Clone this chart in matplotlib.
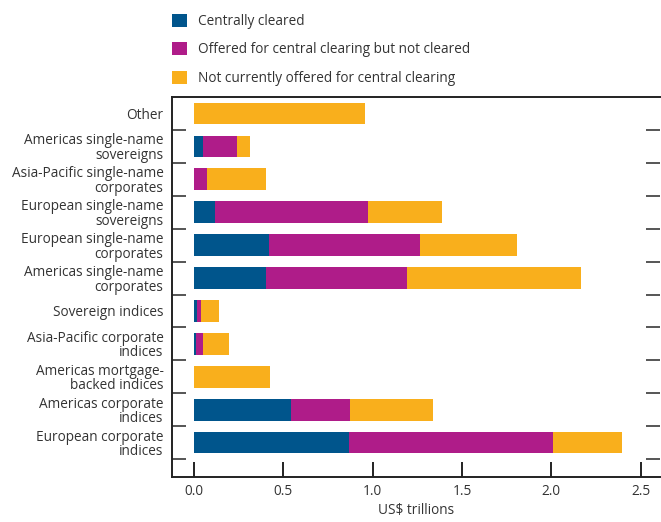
import numpy as np
import matplotlib
matplotlib.use("Agg")
import matplotlib.pyplot as plt
from matplotlib.patches import Patch

plt.rcParams['font.family'] = ['Open Sans', 'DejaVu Sans']

# Categories listed from top to bottom
categories = ["Other",
              "Americas single-name\nsovereigns",
              "Asia-Pacific single-name\ncorporates",
              "European single-name\nsovereigns",
              "European single-name\ncorporates",
              "Americas single-name\ncorporates",
              "Sovereign indices",
              "Asia-Pacific corporate\nindices",
              "Americas mortgage-\nbacked indices",
              "Americas corporate\nindices",
              "European corporate\nindices"]

# US$ trillions
cleared     = [0.0, 0.054, 0.0,   0.118, 0.42,  0.404, 0.017, 0.011, 0.0,   0.544, 0.869]
offered     = [0.0, 0.187, 0.073, 0.857, 0.847, 0.790, 0.022, 0.039, 0.0,   0.331, 1.138]
not_offered = [0.958, 0.073, 0.331, 0.415, 0.543, 0.970, 0.101, 0.146, 0.426, 0.465, 0.386]

series_names = ["Centrally cleared",
                "Offered for central clearing but not cleared",
                "Not currently offered for central clearing"]
colors = ["#00558C", "#AF1C89", "#F9AF1C"]

fig = plt.figure(figsize=(6.61, 5.22), dpi=100)
ax = fig.add_axes([0.260, 0.086, 0.739, 0.728])

n = len(categories)
y = np.arange(n)[::-1]
left = np.zeros(n)
for vals, c in zip([cleared, offered, not_offered], colors):
    ax.barh(y, vals, left=left, height=0.66, color=c, linewidth=0)
    left += np.array(vals)

ax.set_xlim(-0.123, 2.61)
ax.set_ylim(-1.05, 10.5)

txt = "#333333"
ax.set_xticks([0, 0.5, 1.0, 1.5, 2.0, 2.5])
ax.set_xticklabels(["0.0", "0.5", "1.0", "1.5", "2.0", "2.5"])
ax.tick_params(axis="x", direction="in", length=11, width=1.4, color="#222222",
               labelsize=9.8, labelcolor=txt, pad=5)

ax.set_yticks(y)
ax.set_yticklabels(categories, linespacing=0.95)
ax.tick_params(axis="y", which="major", length=0, labelsize=9.8, labelcolor=txt, pad=6)
ax.set_yticks(np.arange(-0.5, 10.0, 1.0), minor=True)
ax.tick_params(axis="y", which="minor", direction="in", length=10, width=1.4,
               color="#555555", left=True, right=True)

for s in ["left", "top", "bottom"]:
    ax.spines[s].set_linewidth(1.4)
    ax.spines[s].set_color("#222222")
ax.spines["right"].set_visible(False)

ax.set_xlabel("US$ trillions", fontsize=9.8, color=txt, labelpad=3)

handles = [Patch(facecolor=c, edgecolor="none") for c in colors]
fig.legend(handles, series_names, loc="upper left", bbox_to_anchor=(0.241, 0.997),
           frameon=False, fontsize=9.8, handlelength=1.1, handleheight=1.1,
           labelspacing=0.97, handletextpad=0.85, labelcolor=txt)

fig.savefig("out.png", dpi=100)
